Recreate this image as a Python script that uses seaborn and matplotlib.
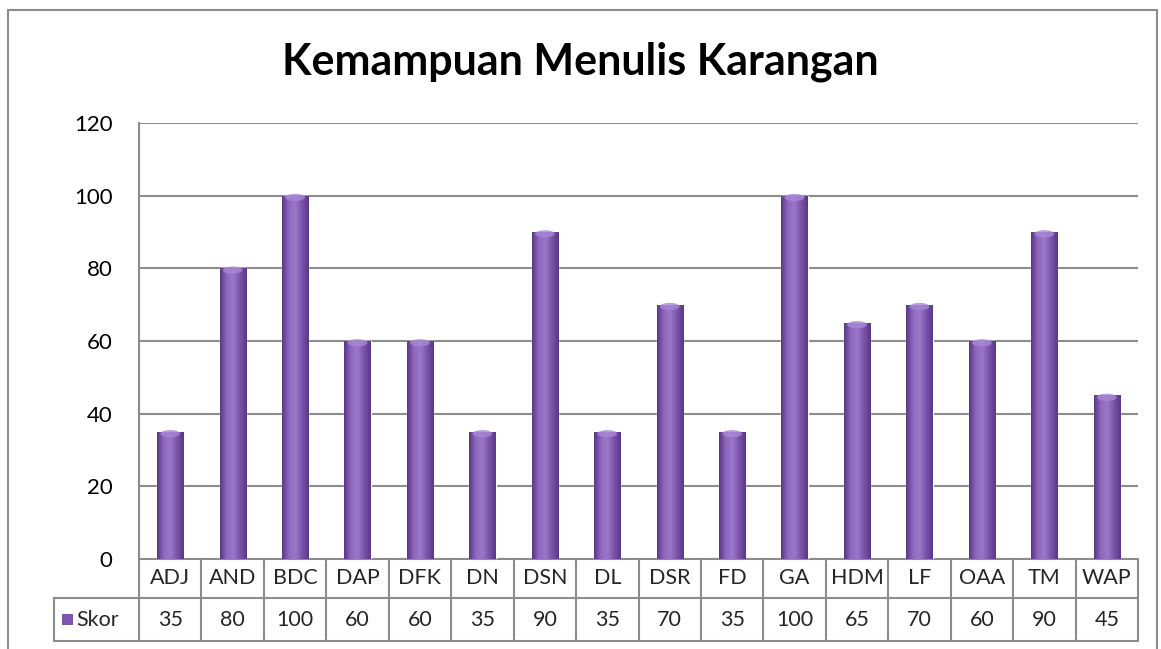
import numpy as np
import pandas as pd
import matplotlib
matplotlib.use("Agg")
import matplotlib.pyplot as plt
import matplotlib.transforms as mtransforms
from matplotlib.colors import LinearSegmentedColormap
from matplotlib.patches import Rectangle, Ellipse
import seaborn as sns

# data
siswa = ['ADJ', 'AND', 'BDC', 'DAP', 'DFK', 'DN', 'DSN', 'DL', 'DSR', 'FD',
         'GA', 'HDM', 'LF', 'OAA', 'TM', 'WAP']
skor = [35, 80, 100, 60, 60, 35, 90, 35, 70, 35, 100, 65, 70, 60, 90, 45]
seri = 'Skor'
judul = 'Kemampuan Menulis Karangan'

df = pd.DataFrame({'siswa': siswa, 'skor': skor})

W, H = 1161, 649
sns.set_theme(style='white')
plt.rcParams['font.family'] = ['Lato', 'DejaVu Sans']

fig = plt.figure(figsize=(W / 100, H / 100), dpi=100)
fig.patch.set_facecolor('white')

# outer chart border
fig.add_artist(Rectangle((8 / W, -0.05), (1157 - 8) / W, 1 - 10 / H + 0.05,
                         transform=fig.transFigure, fill=False,
                         edgecolor='#8c8c8c', lw=1.5))

x0, x1, y0, y1 = 139, 1138, 559, 123
ax = fig.add_axes([x0 / W, 1 - y0 / H, (x1 - x0) / W, (y0 - y1) / H])

purple = '#7d56ad'
sns.barplot(data=df, x='siswa', y='skor', color=purple, width=0.42,
            saturation=1, ax=ax, zorder=3)

# cylinder shading on the bars
cmap = LinearSegmentedColormap.from_list(
    'cyl', ['#5a3785', '#8e68c0', '#9b78c9', '#7a53aa', '#5b3886'])
grad = np.linspace(0, 1, 64).reshape(1, -1)
for p in ax.patches:
    bx, by = p.get_x(), p.get_y()
    bw, bh = p.get_width(), p.get_height()
    im = ax.imshow(grad, cmap=cmap, aspect='auto', zorder=4,
                   extent=(bx, bx + bw, by, by + bh), interpolation='bicubic')
    im.set_clip_path(p)
    ax.add_patch(Ellipse((bx + bw / 2, by + bh - 0.5), bw * 0.75, 2.0,
                         facecolor='#a887d6', edgecolor='none',
                         zorder=5, alpha=0.8))

ax.set_xlim(-0.5, len(siswa) - 0.5)
ax.set_ylim(0, 120)
ax.set_yticks(range(0, 121, 20))
ax.yaxis.grid(True, color='#8c8c8c', lw=1.5, zorder=1)
ax.tick_params(axis='y', length=0, pad=19, labelsize=16, colors='black')
ax.set_xticks([])
ax.set_xlabel('')
ax.set_ylabel('')
for s in ['top', 'right', 'bottom']:
    ax.spines[s].set_visible(False)
ax.spines['left'].set_color('#8c8c8c')
ax.spines['left'].set_linewidth(1.5)
ax.spines['left'].set_zorder(2)

fig.text(0.5, 1 - 62 / H, judul, ha='center', va='center',
         fontsize=31, fontweight='bold', color='black')

# data table below the axis
tr = mtransforms.blended_transform_factory(ax.transData, ax.transAxes)
ph = y0 - y1
r1 = -(598 - y0) / ph
r2 = -(641 - y0) / ph
n = len(siswa)
lc = '#8c8c8c'
colw = (x1 - x0) / n
left_cell = -0.5 - (x0 - 54) / colw
kw = dict(transform=tr, color=lc, lw=1.5, clip_on=False)
ax.plot([-0.5, n - 0.5], [0, 0], **kw)
ax.plot([left_cell, n - 0.5], [r1, r1], **kw)
ax.plot([left_cell, n - 0.5], [r2, r2], **kw)
ax.plot([left_cell, left_cell], [r1, r2], **kw)
for i in range(n + 1):
    ax.plot([i - 0.5, i - 0.5], [0, r2], **kw)
for i, (nm, v) in enumerate(zip(siswa, skor)):
    ax.text(i, r1 / 2, nm, transform=tr, ha='center', va='center',
            fontsize=15.5, clip_on=False)
    ax.text(i, (r1 + r2) / 2, str(v), transform=tr, ha='center', va='center',
            fontsize=15.5, clip_on=False)

# legend key inside the table
key_w = 11 / colw
ax.add_patch(Rectangle((left_cell + 8 / colw, (r1 + r2) / 2 - 0.012), key_w, 0.025,
                       transform=tr, facecolor=purple, edgecolor='none', clip_on=False))
ax.text(left_cell + 22 / colw, (r1 + r2) / 2, seri, transform=tr, ha='left',
        va='center', fontsize=15.5, clip_on=False)

fig.savefig('out.png', dpi=100)
